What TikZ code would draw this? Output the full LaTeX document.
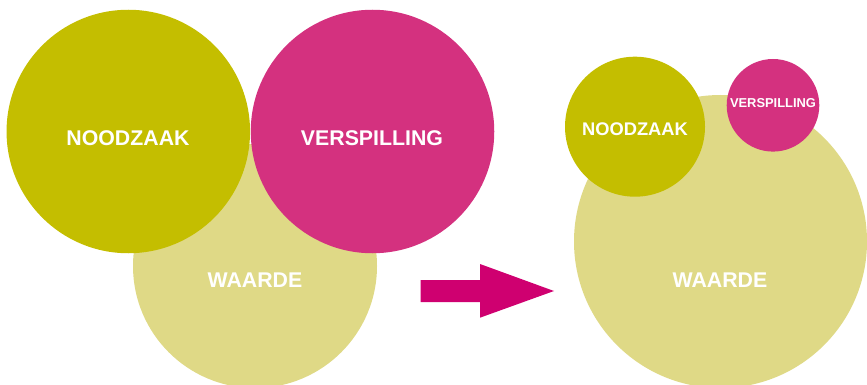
\documentclass[tikz,border=0pt]{standalone}
\usepackage{fontspec}
\setmainfont{Liberation Sans}
\definecolor{olive}{HTML}{C4BE00}
\definecolor{magen}{HTML}{D4317F}
\definecolor{light}{HTML}{DFD986}
\definecolor{arrowc}{HTML}{CF0070}
\begin{document}
\begin{tikzpicture}[x=1pt,y=-1pt,
  disc/.style={circle,inner sep=0pt,draw=none,minimum size=#1},
  lbl/.style={text=white,font=\bfseries\fontsize{#1}{#1}\selectfont,inner sep=0pt}]
\useasboundingbox (0,0) rectangle (867,385);
\begin{scope}
\clip (0,0) rectangle (867,385);
% left group
\node[disc=244pt,fill=light] (lw) at (255,266) {};
\node[disc=243.5pt,fill=olive] (ln) at (128.3,131.5) {};
\node[disc=243.5pt,fill=magen] (lv) at (372.5,131.5) {};
% right group
\node[disc=293pt,fill=light] (rw) at (720.5,241.5) {};
\node[disc=140pt,fill=olive] (rn) at (635,126.7) {};
\node[disc=92.6pt,fill=magen] (rv) at (773,105.3) {};
\end{scope}
% labels
\node[lbl=21.3] (tln) at (128,138) {NOODZAAK};
\node[lbl=21.3] (tlv) at (372,138) {VERSPILLING};
\node[lbl=21.3] (tlw) at (255,280) {WAARDE};
\node[lbl=18.3] (trn) at (635,129) {NOODZAAK};
\node[lbl=12.9] (trv) at (773,103) {VERSPILLING};
\node[lbl=21.3] (trw) at (720,280) {WAARDE};
% arrow
\fill[arrowc] (420.5,280) -- (480,280) -- (480,264) -- (554,291) -- (480,317.7) -- (480,302) -- (420.5,302) -- cycle;
\end{tikzpicture}
\end{document}
